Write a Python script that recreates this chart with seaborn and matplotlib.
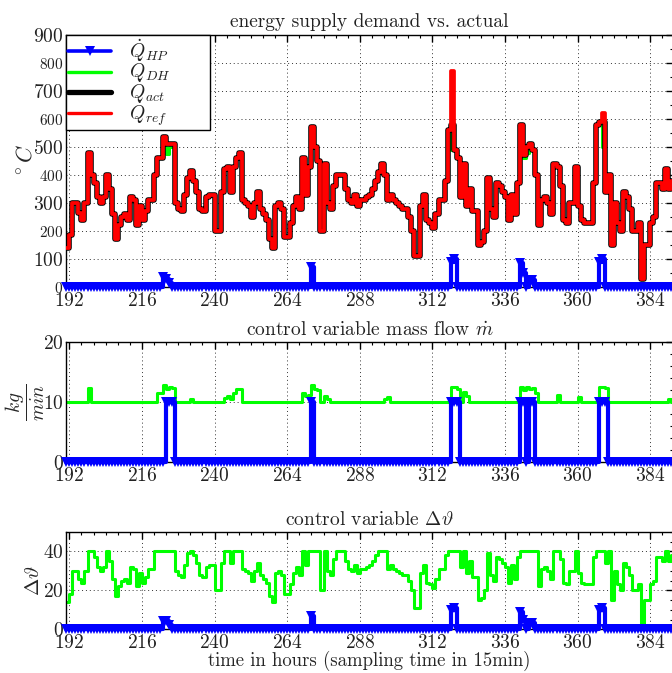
import matplotlib
matplotlib.use("Agg")
import matplotlib.pyplot as plt
import seaborn as sns
import pandas as pd
from matplotlib.ticker import MultipleLocator
from matplotlib.lines import Line2D

# ---------------- data (hourly samples, hour 191 .. 392) ----------------
hours = list(range(191, 393))

q_ref = [140, 185, 300, 300, 265, 240, 300, 480, 400,
         370, 320, 300, 320, 400, 350, 260, 170, 220, 250,
         260, 240, 320, 310, 220, 290, 240, 270, 310, 310,
         400, 460, 460, 535, 510, 510, 510, 300, 280, 270,
         330, 390, 415, 380, 340, 280, 270, 320, 330, 330,
         200, 200, 340, 420, 430, 340, 430, 460, 480, 310,
         300, 290, 250, 300, 340, 280, 260, 240, 170, 140,
         290, 300, 280, 180, 180, 230, 290, 320, 280, 460,
         330, 430, 570, 500, 450, 200, 440, 300, 280, 360,
         400, 400, 400, 350, 310, 300, 330, 290, 310, 310,
         320, 330, 350, 380, 410, 440, 400, 310, 330, 310,
         300, 290, 280, 280, 250, 200, 110, 110, 290, 330,
         240, 230, 210, 260, 310, 310, 380, 560, 770, 490,
         460, 320, 440, 290, 350, 270, 270, 150, 160, 200,
         390, 280, 250, 370, 360, 340, 320, 240, 330, 260,
         370, 580, 470, 500, 510, 490, 400, 220, 310, 320,
         300, 260, 440, 430, 360, 240, 230, 300, 300, 430,
         290, 240, 230, 230, 230, 370, 580, 590, 620, 340,
         400, 150, 300, 230, 200, 340, 320, 280, 200, 200,
         230, 30, 150, 150, 230, 250, 370, 370, 350, 420,
         350, 380, 380]

q_act = [140, 185, 300, 300, 265, 240, 300, 480, 400,
         370, 320, 300, 320, 400, 350, 260, 170, 220, 250,
         260, 240, 320, 310, 220, 290, 240, 270, 310, 310,
         400, 460, 460, 535, 510, 510, 510, 300, 280, 270,
         330, 390, 415, 380, 340, 280, 270, 320, 330, 330,
         200, 200, 340, 420, 430, 340, 430, 460, 480, 310,
         300, 290, 250, 300, 340, 280, 260, 240, 170, 140,
         290, 300, 280, 180, 180, 230, 290, 320, 280, 460,
         330, 430, 570, 500, 450, 200, 440, 300, 280, 360,
         400, 400, 400, 350, 310, 300, 330, 290, 310, 310,
         320, 330, 350, 380, 410, 440, 400, 310, 330, 310,
         300, 290, 280, 280, 250, 200, 110, 110, 290, 330,
         240, 230, 210, 260, 310, 310, 380, 560, 580, 490,
         460, 320, 440, 290, 350, 270, 270, 150, 160, 200,
         390, 280, 250, 370, 360, 340, 320, 240, 330, 260,
         370, 580, 470, 500, 510, 490, 400, 220, 310, 320,
         300, 260, 440, 430, 360, 240, 230, 300, 300, 430,
         290, 240, 230, 230, 230, 370, 580, 590, 590, 340,
         400, 150, 300, 230, 200, 340, 320, 280, 200, 200,
         230, 30, 150, 150, 230, 250, 370, 370, 350, 420,
         350, 380, 380]

q_dh = [140, 185, 300, 300, 265, 240, 300, 480, 400,
        370, 320, 300, 320, 400, 350, 260, 170, 220, 250,
        260, 240, 320, 310, 220, 290, 240, 270, 310, 310,
        400, 460, 460, 500, 475, 500, 510, 300, 280, 270,
        330, 390, 415, 380, 340, 280, 270, 320, 330, 330,
        200, 200, 340, 420, 430, 340, 430, 460, 480, 310,
        300, 290, 250, 300, 340, 280, 260, 240, 170, 140,
        290, 300, 280, 180, 180, 230, 290, 320, 280, 460,
        330, 430, 500, 500, 450, 200, 440, 300, 280, 360,
        400, 400, 400, 350, 310, 300, 330, 290, 310, 310,
        320, 330, 350, 380, 410, 440, 400, 310, 330, 310,
        300, 290, 280, 280, 250, 200, 110, 110, 290, 330,
        240, 230, 210, 260, 310, 310, 380, 560, 490, 490,
        460, 320, 440, 290, 350, 270, 270, 150, 160, 200,
        390, 280, 250, 370, 360, 340, 320, 240, 330, 260,
        370, 500, 460, 480, 510, 490, 400, 220, 310, 320,
        300, 260, 440, 430, 360, 240, 230, 300, 300, 430,
        290, 240, 230, 230, 230, 370, 580, 590, 500, 340,
        400, 150, 300, 230, 200, 340, 320, 280, 200, 200,
        230, 30, 150, 150, 230, 250, 370, 370, 350, 420,
        350, 380, 380]

q_hp = ([0] * 32 + [35, 30, 15] + [0] * 46 + [70] + [0] * 45 + [90, 100]
        + [0] * 21 + [85, 50, 0, 25, 25] + [0] * 21 + [90, 100] + [0] * 24)

mdot_dh = [10, 10, 10, 10, 10, 10, 10, 12.3, 10,
           10, 10, 10, 10, 10, 10, 10, 10, 10, 10,
           10, 10, 10, 10, 10, 10, 10, 10, 10, 10,
           10, 11.5, 11.5, 12.8, 12.2, 12.5, 12.3, 10, 10, 10,
           10, 10, 10.5, 10, 10, 10, 10, 10, 10, 10,
           10, 10, 10, 10.6, 11, 10.5, 11.5, 12.2, 12.2, 10,
           10, 10, 10, 10, 10, 10, 10, 10, 10, 10,
           10, 10, 10, 10, 10, 10, 10, 10, 10, 11.5,
           11, 11.2, 12.8, 12.2, 12, 10, 11, 10.5, 10, 10,
           10, 10, 10, 10, 10, 10, 10, 10, 10, 10,
           10, 10, 10, 10, 10, 10, 10.5, 10.8, 10, 10,
           10, 10, 10, 10, 10, 10, 10, 10, 10, 10,
           10, 10, 10, 10, 10, 10, 10, 10, 12.5, 12.5,
           12.2, 10, 11.7, 11, 10, 10, 10, 10, 10, 10,
           10, 10, 10, 10, 10, 10, 10, 10, 10, 10,
           10, 12.5, 12, 12.5, 12.2, 12.4, 11.5, 10, 10, 10,
           10, 10, 10, 11.2, 10, 10, 10, 10, 10, 10,
           10.8, 10, 10, 10, 10, 10, 10, 12.5, 12.5, 12.4,
           10, 10, 10, 10, 10, 10, 10, 10, 10, 10,
           10, 10, 10, 10, 10, 10, 10, 10, 10, 10,
           10.5, 10, 10]

mdot_hp = ([0] * 33 + [10, 10, 10] + [0] * 45 + [10] + [0] * 45 + [10, 10, 10]
           + [0] * 20 + [10, 10, 0, 10, 10] + [0] * 21 + [10, 10, 10] + [0] * 23)

dtheta_dh = [14, 18, 30, 30, 26, 24, 30, 40, 40,
             37, 32, 30, 32, 40, 35, 26, 17, 22, 25,
             26, 24, 32, 31, 22, 29, 24, 27, 31, 31,
             40, 40, 40, 40, 40, 40, 40, 30, 28, 27,
             33, 39, 40, 38, 34, 28, 27, 32, 33, 33,
             20, 20, 34, 40, 40, 34, 40, 40, 40, 31,
             30, 29, 25, 30, 34, 28, 26, 24, 17, 14,
             29, 30, 28, 18, 18, 23, 29, 32, 28, 40,
             33, 40, 40, 40, 40, 20, 40, 30, 28, 36,
             40, 40, 40, 35, 31, 30, 33, 29, 31, 31,
             32, 33, 35, 38, 40, 40, 40, 31, 33, 31,
             30, 29, 28, 28, 25, 20, 11, 11, 29, 33,
             24, 23, 21, 26, 31, 31, 38, 40, 40, 40,
             40, 32, 40, 29, 35, 27, 27, 15, 16, 20,
             39, 28, 25, 37, 36, 34, 32, 24, 33, 26,
             37, 40, 40, 40, 40, 40, 40, 22, 31, 32,
             30, 26, 40, 40, 36, 24, 23, 30, 30, 40,
             29, 24, 23, 23, 23, 37, 40, 40, 40, 34,
             40, 15, 30, 23, 20, 34, 32, 28, 20, 20,
             23, 3, 15, 15, 23, 25, 37, 37, 35, 40,
             35, 38, 38]

dtheta_hp = ([0] * 32 + [4, 4, 2] + [0] * 46 + [7] + [0] * 45 + [10, 11]
             + [0] * 21 + [9, 5, 0, 3, 3] + [0] * 21 + [10, 11] + [0] * 24)

x_ticks = [192, 216, 240, 264, 288, 312, 336, 360, 384]

df = pd.DataFrame({"h": hours, "q_ref": q_ref, "q_act": q_act, "q_dh": q_dh,
                   "q_hp": q_hp, "mdot_dh": mdot_dh, "mdot_hp": mdot_hp,
                   "dt_dh": dtheta_dh, "dt_hp": dtheta_hp})

# ---------------- style ----------------
sns.set_theme(style="white")
plt.rcParams.update({
    "font.family": ["cmr10", "DejaVu Serif"],
    "mathtext.fontset": "cm",
    "axes.formatter.use_mathtext": True,
    "axes.unicode_minus": False,
    "axes.edgecolor": "black",
    "axes.linewidth": 1.0,
    "text.color": "#222222",
    "xtick.color": "black",
    "ytick.color": "black",
    "xtick.labelcolor": "#222222",
    "ytick.labelcolor": "#222222",
})

BLUE = "#0000ff"
GREEN = "#00ff00"
RED = "#ff0000"

fig = plt.figure(figsize=(6.72, 6.73), dpi=100)
L, W = 0.0987, 0.9028
ax1 = fig.add_axes([L, 0.5735, W, 0.3744])
ax2 = fig.add_axes([L, 0.3135, W, 0.1783])
ax3 = fig.add_axes([L, 0.0650, W, 0.1446])

mk = dict(marker="v", markersize=7.5, markeredgewidth=0, clip_on=False)

# top panel
sns.lineplot(data=df, x="h", y="q_dh", ax=ax1, color=GREEN, linewidth=2.2,
             drawstyle="steps-post", estimator=None, zorder=2)
sns.lineplot(data=df, x="h", y="q_act", ax=ax1, color="black", linewidth=4.0,
             drawstyle="steps-post", estimator=None, zorder=3)
sns.lineplot(data=df, x="h", y="q_ref", ax=ax1, color=RED, linewidth=2.7,
             drawstyle="steps-post", estimator=None, zorder=4)
sns.lineplot(data=df, x="h", y="q_hp", ax=ax1, color=BLUE, linewidth=3.0,
             drawstyle="steps-post", estimator=None, zorder=5, **mk)

# middle panel
sns.lineplot(data=df, x="h", y="mdot_dh", ax=ax2, color=GREEN, linewidth=2.2,
             drawstyle="steps-post", estimator=None, zorder=2)
sns.lineplot(data=df, x="h", y="mdot_hp", ax=ax2, color=BLUE, linewidth=3.0,
             drawstyle="steps-post", estimator=None, zorder=3, **mk)

# bottom panel
sns.lineplot(data=df, x="h", y="dt_dh", ax=ax3, color=GREEN, linewidth=2.2,
             drawstyle="steps-post", estimator=None, zorder=2)
sns.lineplot(data=df, x="h", y="dt_hp", ax=ax3, color=BLUE, linewidth=3.0,
             drawstyle="steps-post", estimator=None, zorder=3, **mk)

ylims = [(0, 900), (0, 20), (0, 50)]
ymaj = [100, 10, 20]
ymin = [50, 2, 5]
for ax, yl, ma, mi in zip([ax1, ax2, ax3], ylims, ymaj, ymin):
    ax.set_xlim(191, 391.5)
    ax.set_ylim(*yl)
    ax.set_xticks(x_ticks)
    ax.xaxis.set_minor_locator(MultipleLocator(4))
    ax.yaxis.set_major_locator(MultipleLocator(ma))
    ax.yaxis.set_minor_locator(MultipleLocator(mi))
    ax.tick_params(which="both", direction="in", top=True, right=True,
                   labelsize=14)
    ax.tick_params(axis="x", pad=3.5)
    ax.tick_params(axis="y", pad=2)
    ax.tick_params(which="major", length=5, width=1)
    ax.tick_params(which="minor", length=2.5, width=0.8)
    ax.grid(True, which="major", linestyle=(0, (1, 3)), color="black",
            linewidth=0.7, alpha=0.8)
    ax.set_xlabel("")
    for s in ax.spines.values():
        s.set_linewidth(1.0)
        s.set_color("black")

# alternating tick label sizes on top panel
for i, lab in enumerate(ax1.get_yticklabels()):
    lab.set_fontsize(14 if i % 2 == 0 else 11)

ax1.set_title("energy supply demand vs. actual", fontsize=14, pad=6)
ax2.set_title(r"control variable mass flow $\dot{m}$", fontsize=14, pad=5)
ax3.set_title(r"control variable $\Delta\vartheta$", fontsize=14, pad=5)

ax1.set_ylabel(r"$^\circ C$", fontsize=16, labelpad=-2)
ax2.set_ylabel(r"$\dfrac{kg}{min}$", fontsize=14, labelpad=-3)
ax3.set_ylabel(r"$\Delta\vartheta$", fontsize=15, labelpad=0)
ax3.set_xlabel("time in hours (sampling time in 15min)", fontsize=13.5, labelpad=-1)

handles = [
    Line2D([], [], color=BLUE, linewidth=2.6, marker="v", markersize=7,
           markeredgewidth=0),
    Line2D([], [], color=GREEN, linewidth=2.4),
    Line2D([], [], color="black", linewidth=3.8),
    Line2D([], [], color=RED, linewidth=2.4),
]
labels = [r"$\dot{Q}_{HP}$", r"$\dot{Q}_{DH}$", r"$\dot{Q}_{act}$", r"$\dot{Q}_{ref}$"]
leg = ax1.legend(handles, labels, loc="upper left",
                 bbox_to_anchor=(0, 0, 144 / 606.7, 1), mode="expand",
                 borderaxespad=0, fontsize=14, frameon=True, fancybox=False,
                 framealpha=1, edgecolor="black", handlelength=2.2,
                 handletextpad=0.9, labelspacing=-0.3, borderpad=0.1)
leg.get_frame().set_linewidth(1.0)
leg.set_zorder(10)

fig.savefig("out.png", dpi=100)
